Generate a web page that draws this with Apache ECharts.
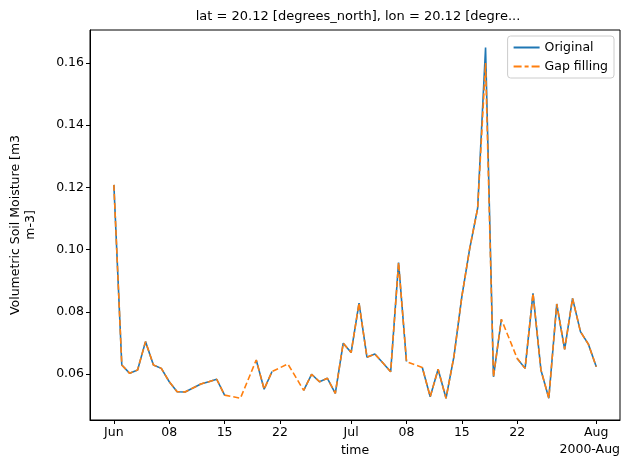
<!DOCTYPE html>
<html><head><meta charset="utf-8">
<script src="https://cdn.jsdelivr.net/npm/echarts@6/dist/echarts.min.js"></script>
<style>html,body{margin:0;padding:0;background:#fff}#c{width:630px;height:470px}</style>
</head><body><div id="c"></div>
<script>
// day index 0 = 2000-06-01
var days = [];
for (var i = 0; i <= 61; i++) days.push(i);

var original = [0.1208, 0.0629, 0.0602, 0.0613, 0.0704, 0.0629, 0.0618, 0.0575, 0.0543, 0.0542,
  0.0555, 0.0568, 0.0575, 0.0583, 0.0532, null, null, null, 0.0645, 0.0551,
  0.0608, null, null, null, 0.0547, 0.0599, 0.0575, 0.0586, 0.0538, 0.0699,
  0.0669, 0.0828, 0.0654, 0.0664, 0.0636, 0.0607, 0.0958, 0.0640, null, 0.0621,
  0.0527, 0.0615, 0.0522, 0.0656, 0.0849, 0.1004, 0.1133, 0.1650, 0.0591, 0.0776,
  null, 0.0650, 0.0618, 0.0859, 0.0613, 0.0522, 0.0825, 0.0679, 0.0843, 0.0736,
  0.0696, 0.0623];

var gapFilling = [0.1208, 0.0629, 0.0602, 0.0613, 0.0704, 0.0629, 0.0618, 0.0575, 0.0543, 0.0542,
  0.0555, 0.0568, 0.0575, 0.0583, 0.0532, 0.0527, 0.0522, 0.0583, 0.0645, 0.0551,
  0.0608, 0.0620, 0.0632, 0.0590, 0.0547, 0.0599, 0.0575, 0.0586, 0.0538, 0.0699,
  0.0669, 0.0828, 0.0654, 0.0664, 0.0636, 0.0607, 0.0958, 0.0640, 0.0630, 0.0621,
  0.0527, 0.0615, 0.0522, 0.0656, 0.0849, 0.1004, 0.1133, 0.1600, 0.0591, 0.0776,
  0.0713, 0.0650, 0.0618, 0.0859, 0.0613, 0.0522, 0.0825, 0.0679, 0.0843, 0.0736,
  0.0696, 0.0623];

var tickDays = [0, 7, 14, 21, 30, 37, 44, 51, 61];
var tickLabels = ['Jun', '08', '15', '22', 'Jul', '08', '15', '22', 'Aug'];
var yTicks = [0.06, 0.08, 0.10, 0.12, 0.14, 0.16];

function pairs(vals) {
  return days.map(function (d, i) { return [d, vals[i]]; });
}

var font = 'DejaVu Sans';
var chart = echarts.init(document.getElementById('c'));
chart.setOption({
  animation: false,
  textStyle: {fontFamily: font},
  title: {
    text: 'lat = 20.12 [degrees_north], lon = 20.12 [degre...',
    left: 353, top: 5, textAlign: 'center',
    textStyle: {fontSize: 13, fontWeight: 'normal', color: '#000', fontFamily: font}
  },
  graphic: [{
    type: 'text', right: 10, top: 443,
    style: {text: '2000-Aug', fontSize: 12.5, fill: '#000', fontFamily: font}
  }],
  legend: {
    right: 16, top: 36, orient: 'vertical', itemGap: 6, itemWidth: 26, itemHeight: 10,
    backgroundColor: '#fff', borderColor: '#ccc', borderWidth: 1, borderRadius: 3, padding: [5, 6],
    textStyle: {fontSize: 12.5, color: '#000'},
    data: [
      {name: 'Original', icon: 'path://M0,4 L26,4 L26,6 L0,6 Z', itemStyle: {color: '#1f77b4'}},
      {name: 'Gap filling', icon: 'path://M0,4 L8,4 L8,6 L0,6 Z M11,4 L15,4 L15,6 L11,6 Z M18,4 L26,4 L26,6 L18,6 Z', itemStyle: {color: '#ff7f0e'}}
    ]
  },
  grid: {left: 87, right: 10, top: 30, bottom: 50, show: true, borderColor: '#000', borderWidth: 1},
  xAxis: {
    type: 'value', min: -3.02, max: 64.0,
    name: 'time', nameLocation: 'middle', nameGap: 24,
    nameTextStyle: {fontSize: 12.5, color: '#000'},
    splitLine: {show: false},
    axisLine: {onZero: false, lineStyle: {color: '#000'}},
    axisTick: {customValues: tickDays, length: 4, lineStyle: {color: '#000'}},
    axisLabel: {
      customValues: tickDays, fontSize: 12.5, color: '#000', margin: 6,
      formatter: function (v) { return tickLabels[tickDays.indexOf(Math.round(v))]; }
    }
  },
  yAxis: {
    type: 'value', min: 0.0452, max: 0.1706,
    name: 'Volumetric Soil Moisture [m3\nm-3]', nameLocation: 'middle', nameGap: 52,
    nameTextStyle: {fontSize: 12.5, color: '#000', lineHeight: 15},
    splitLine: {show: false},
    axisLine: {show: true, onZero: false, lineStyle: {color: '#000'}},
    axisTick: {customValues: yTicks, length: 4, lineStyle: {color: '#000'}},
    axisLabel: {
      customValues: yTicks, fontSize: 12.5, color: '#000', margin: 6,
      formatter: function (v) { return v.toFixed(2); }
    }
  },
  series: [
    {name: 'Original', type: 'line', data: pairs(original), showSymbol: false,
     connectNulls: false, color: '#1f77b4', lineStyle: {width: 1.6, color: '#1f77b4'}},
    {name: 'Gap filling', type: 'line', data: pairs(gapFilling), showSymbol: false,
     color: '#ff7f0e', lineStyle: {width: 1.6, color: '#ff7f0e', type: [6, 3]}}
  ]
});
</script>
</body></html>
